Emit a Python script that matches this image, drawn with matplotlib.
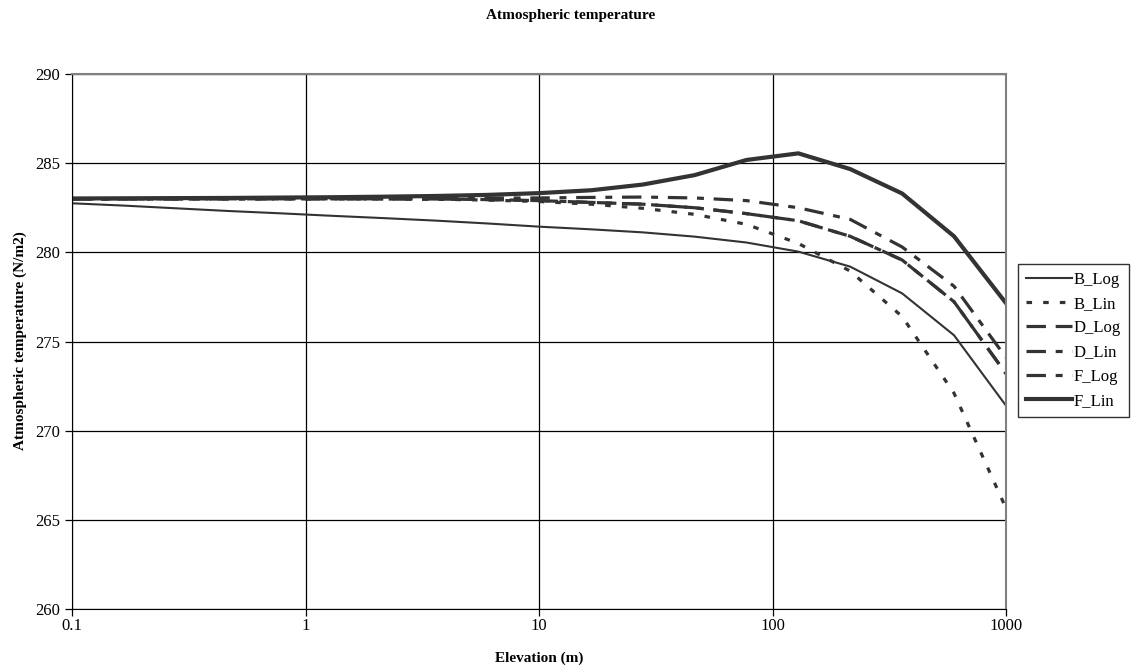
import matplotlib
matplotlib.use("Agg")
import matplotlib.pyplot as plt
from matplotlib.ticker import FixedLocator, FixedFormatter, NullLocator

plt.rcParams['font.family'] = ['Liberation Serif', 'DejaVu Serif']
plt.rcParams['lines.scale_dashes'] = False

# elevation points (m)
elevation = [0.1, 0.167, 0.278, 0.464, 0.774, 1.29, 2.15, 3.59, 5.99, 10.0,
             16.7, 27.8, 46.4, 77.4, 129, 215, 359, 599, 1000]

b_log = [282.75, 282.62, 282.47, 282.32, 282.19, 282.05, 281.92, 281.78, 281.62, 281.44,
         281.29, 281.12, 280.88, 280.55, 280.04, 279.2, 277.7, 275.35, 271.4]
b_lin = [283.0, 283.0, 283.0, 283.0, 283.0, 283.0, 282.99, 282.98, 282.93, 282.85,
         282.7, 282.47, 282.13, 281.57, 280.5, 278.95, 276.4, 272.1, 265.65]
d_log = [283.0, 283.0, 283.0, 283.0, 283.0, 283.0, 283.0, 282.99, 282.96, 282.9,
         282.8, 282.7, 282.5, 282.17, 281.77, 280.9, 279.57, 277.23, 273.2]
d_lin = [283.0, 283.0, 283.0, 283.0, 283.0, 283.0, 283.0, 282.99, 282.96, 282.9,
         282.8, 282.7, 282.5, 282.17, 281.77, 280.9, 279.57, 277.23, 273.2]
f_log = [283.0, 283.0, 283.0, 283.01, 283.01, 283.02, 283.02, 283.03, 283.04, 283.05,
         283.08, 283.1, 283.05, 282.9, 282.5, 281.85, 280.3, 278.1, 274.1]
f_lin = [283.02, 283.03, 283.04, 283.05, 283.07, 283.09, 283.12, 283.16, 283.22, 283.32,
         283.48, 283.8, 284.33, 285.18, 285.55, 284.67, 283.3, 280.9, 277.15]

names = ['B_Log', 'B_Lin', 'D_Log', 'D_Lin', 'F_Log', 'F_Lin']
series = [b_log, b_lin, d_log, d_lin, f_log, f_lin]
styles = ['-', (0, (4, 8)), (0, (14, 7)), (0, (14, 7, 5, 7)), (0, (14, 7, 5, 7)), '-']
widths = [1.5, 2.3, 2.3, 2.3, 2.3, 3.0]
col = '#333333'

fig = plt.figure(figsize=(11.42, 6.71), dpi=100)
ax = fig.add_axes([72/1142, 1-609/671, (1006-72)/1142, (609-74)/671])

for nm, s, ls, lw in zip(names, series, styles, widths):
    ax.plot(elevation, s, color=col, linestyle=ls, lw=lw, label=nm)

ax.set_xscale('log')
ax.set_xlim(0.1, 1000)
ax.set_ylim(260, 290)
ax.xaxis.set_major_locator(FixedLocator([0.1, 1, 10, 100, 1000]))
ax.xaxis.set_major_formatter(FixedFormatter(['0.1', '1', '10', '100', '1000']))
ax.xaxis.set_minor_locator(NullLocator())
ax.set_yticks(range(260, 291, 5))
ax.grid(True, color='black', lw=0.9)
ax.tick_params(labelsize=12, length=5, width=0.9, color='black')
ax.tick_params(axis='x', pad=1.5)
for side in ['top', 'right']:
    ax.spines[side].set_color('#808080')
    ax.spines[side].set_linewidth(1.5)
for side in ['left', 'bottom']:
    ax.spines[side].set_color('black')

fig.text(539/1142, 1-658/671, 'Elevation (m)', ha='center', va='center',
         fontsize=11, fontweight='bold')
fig.text(20/1142, 1-341/671, 'Atmospheric temperature (N/m2)', ha='center', va='center',
         rotation=90, fontsize=11, fontweight='bold')
fig.text(0.5, 1-15/671, 'Atmospheric temperature', ha='center', va='center',
         fontsize=11, fontweight='bold')

leg = fig.legend(loc='upper left', bbox_to_anchor=(1018/1142, 1-264/671), fontsize=12,
                 frameon=True, fancybox=False, edgecolor='black', handlelength=2.8,
                 handletextpad=0.1, labelspacing=0.5, borderpad=0.45, borderaxespad=0)
leg.get_frame().set_linewidth(1.0)

fig.savefig('out.png', dpi=100)
